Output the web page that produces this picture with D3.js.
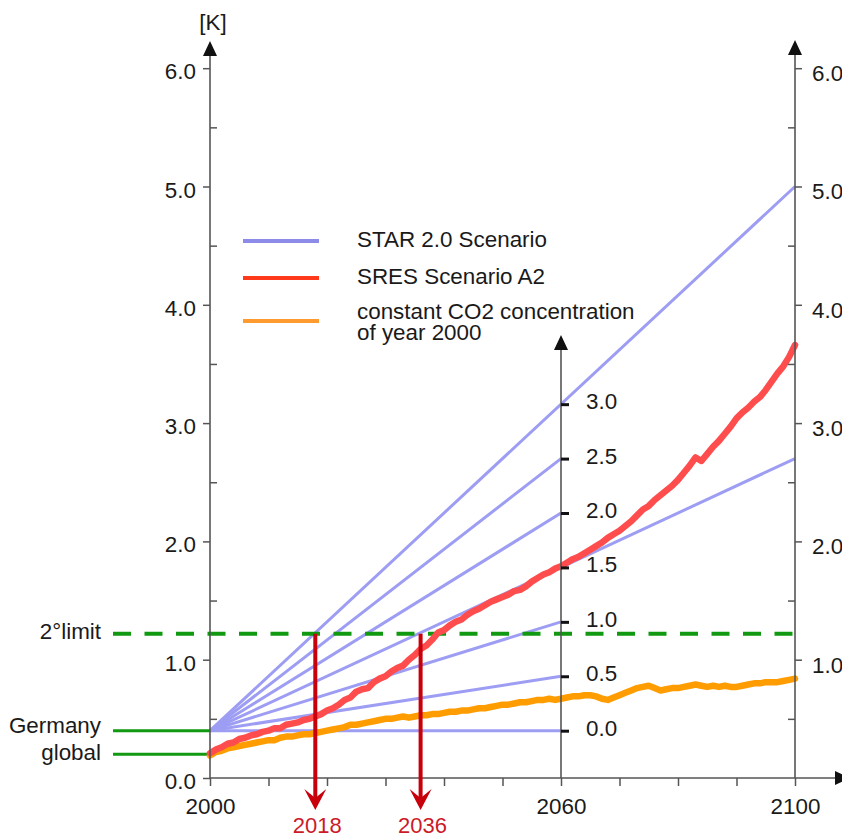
<!DOCTYPE html>
<html>
<head>
<meta charset="utf-8">
<script src="https://cdn.jsdelivr.net/npm/d3@7"></script>
<style>
  html, body { margin: 0; padding: 0; background: #fff; }
  svg { display: block; font-family: "Liberation Sans", Arial, Helvetica, sans-serif; }
</style>
</head>
<body>
<svg id="chart" width="842" height="839"></svg>
<script>
// ---- data ----
const years = d3.range(2000, 2101);

// SRES A2 warming (K), yearly
const sresA2 = [
  0.21,0.24,0.26,0.29,0.30,0.33,0.34,0.36,0.37,0.39,
  0.40,0.42,0.42,0.45,0.46,0.47,0.49,0.50,0.52,0.54,
  0.57,0.59,0.62,0.66,0.68,0.73,0.75,0.76,0.81,0.84,
  0.86,0.90,0.93,0.95,1.00,1.04,1.09,1.12,1.17,1.23,
  1.25,1.29,1.32,1.34,1.38,1.41,1.43,1.46,1.49,1.51,
  1.53,1.55,1.58,1.59,1.62,1.66,1.69,1.72,1.74,1.77,
  1.79,1.82,1.85,1.87,1.90,1.93,1.96,1.99,2.03,2.06,
  2.09,2.13,2.17,2.22,2.27,2.30,2.35,2.39,2.43,2.47,
  2.52,2.58,2.64,2.71,2.68,2.74,2.80,2.85,2.91,2.97,
  3.04,3.09,3.13,3.18,3.22,3.28,3.35,3.42,3.48,3.56,3.66
];

// constant CO2 concentration of year 2000 (K), yearly
const constCO2 = [
  0.19,0.22,0.23,0.25,0.26,0.27,0.28,0.29,0.30,0.31,
  0.32,0.32,0.34,0.35,0.35,0.36,0.37,0.37,0.38,0.39,
  0.40,0.41,0.42,0.43,0.45,0.45,0.46,0.47,0.48,0.49,
  0.50,0.50,0.51,0.52,0.51,0.52,0.53,0.53,0.54,0.54,
  0.55,0.56,0.56,0.57,0.57,0.58,0.59,0.59,0.60,0.61,
  0.62,0.62,0.63,0.64,0.64,0.65,0.66,0.66,0.67,0.66,
  0.67,0.68,0.69,0.69,0.70,0.70,0.69,0.67,0.66,0.68,
  0.70,0.72,0.74,0.76,0.77,0.78,0.76,0.74,0.75,0.76,
  0.76,0.77,0.78,0.79,0.78,0.77,0.78,0.77,0.78,0.77,
  0.77,0.78,0.79,0.80,0.80,0.81,0.81,0.81,0.82,0.83,0.84
];

// STAR 2.0 scenario rates (inner axis values at 2060)
const starRates = [0, 0.5, 1.0, 1.5, 2.0, 2.5, 3.0];
const starExtendedRates = [1.5, 3.0];   // these run on to 2100
const starKPerUnit = 0.92;               // K of warming by 2060 per inner-axis unit

const germanyLevel = 0.4;
const globalLevel = 0.2;
const limitLevel = 1.22;
const crossingYears = [2018, 2036];

const yMajorTicks = [0, 1, 2, 3, 4, 5, 6];
const yMinorTicks = [0.5, 1.5, 2.5, 3.5, 4.5, 5.5];
const xTicks = d3.range(2000, 2101, 10);
const xLabelled = [2000, 2060, 2100];

const legendItems = [
  { label: ["STAR 2.0 Scenario"], color: "#8c8ce8" },
  { label: ["SRES Scenario A2"], color: "#ff3a1a" },
  { label: ["constant CO2 concentration", "of year 2000"], color: "#ff9a30" }
];

// ---- layout ----
const FONT = 22.4;
const TEXT = "#1a1a1a";
const AXIS = "#555";
const GREEN = "#119911";
const ARROW_RED = "#c8000c";

const svg = d3.select("#chart");

const x = d3.scaleLinear().domain([2000, 2100]).range([210, 795]);
const y = d3.scaleLinear().domain([0, 6]).range([778, 68.2]);

const starValue = (rate, yr) => germanyLevel + rate * starKPerUnit * (yr - 2000) / 60;
const yMid = d3.scaleLinear().domain([0, 3]).range([y(starValue(0, 2060)), y(starValue(3, 2060))]);

const fmt = d3.format(".1f");

function styleAxis(g, tickColor, tickWidth) {
  g.attr("font-size", FONT).attr("font-family", null);
  g.select(".domain").remove();
  g.selectAll(".tick line").attr("stroke", tickColor).attr("stroke-width", tickWidth);
  g.selectAll(".tick text").attr("fill", TEXT);
}

function arrowHead(g, tipX, tipY, dir) {
  // filled triangle pointing up or right
  const L = 15, Hw = 7;
  let pts;
  if (dir === "up") pts = [[tipX, tipY], [tipX - Hw, tipY + L], [tipX + Hw, tipY + L]];
  else pts = [[tipX, tipY], [tipX - L, tipY - Hw], [tipX - L, tipY + Hw]];
  g.append("polygon").attr("points", pts.map(p => p.join(",")).join(" ")).attr("fill", "#111");
}

// ---- STAR fan ----
const fan = svg.append("g");
starRates.forEach(r => {
  const endYear = starExtendedRates.includes(r) ? 2100 : 2060;
  fan.append("line")
    .attr("x1", x(2000)).attr("y1", y(germanyLevel))
    .attr("x2", x(endYear)).attr("y2", y(starValue(r, endYear)))
    .attr("stroke", "#9d9df4").attr("stroke-width", 3);
});

// ---- Germany / global reference lines ----
[germanyLevel, globalLevel].forEach(v => {
  svg.append("line")
    .attr("x1", 113).attr("x2", x(2000))
    .attr("y1", y(v)).attr("y2", y(v))
    .attr("stroke", GREEN).attr("stroke-width", 3);
});

// 2° limit
svg.append("line")
  .attr("x1", 113).attr("x2", x(2100))
  .attr("y1", y(limitLevel)).attr("y2", y(limitLevel))
  .attr("stroke", GREEN).attr("stroke-width", 4)
  .attr("stroke-dasharray", "18,13.5");

// ---- scenario series ----
const line = d3.line().x((d, i) => x(years[i])).y(d => y(d)).curve(d3.curveLinear);

svg.append("path").datum(constCO2)
  .attr("d", line).attr("fill", "none")
  .attr("stroke", "#ff9c00").attr("stroke-width", 6.5)
  .attr("stroke-linejoin", "round").attr("stroke-linecap", "round");

svg.append("path").datum(sresA2)
  .attr("d", line).attr("fill", "none")
  .attr("stroke", "#ff4d4d").attr("stroke-width", 6.5)
  .attr("stroke-linejoin", "round").attr("stroke-linecap", "round");

// ---- axes ----
const axes = svg.append("g");

// left axis
const gL = axes.append("g").attr("transform", `translate(${x(2000)},0)`);
gL.append("g").call(d3.axisLeft(y).tickValues(yMajorTicks).tickSize(7).tickPadding(7).tickSizeOuter(0).tickFormat(fmt))
  .call(g => { styleAxis(g, AXIS, 1.5); g.selectAll(".tick text").attr("dy", "0.47em"); });
gL.append("g").call(d3.axisRight(y).tickValues(yMinorTicks).tickSize(7).tickSizeOuter(0).tickFormat(""))
  .call(g => styleAxis(g, AXIS, 1.5));
gL.append("line").attr("x1", 0).attr("x2", 0).attr("y1", y(0)).attr("y2", 55)
  .attr("stroke", AXIS).attr("stroke-width", 1.6);
arrowHead(gL, 0, 41, "up");
gL.append("text").attr("x", 3).attr("y", 30).attr("text-anchor", "middle")
  .attr("font-size", FONT).attr("fill", TEXT).text("[K]");

// right axis
const gR = axes.append("g").attr("transform", `translate(${x(2100)},0)`);
gR.append("g").call(d3.axisRight(y).tickValues(yMajorTicks.filter(d => d > 0)).tickSize(7).tickPadding(10).tickSizeOuter(0).tickFormat(fmt))
  .call(g => { styleAxis(g, AXIS, 1.5); g.selectAll(".tick text").attr("dy", "0.55em"); });
gR.append("g").call(d3.axisLeft(y).tickValues(yMinorTicks).tickSize(7).tickSizeOuter(0).tickFormat(""))
  .call(g => styleAxis(g, AXIS, 1.5));
gR.append("line").attr("x1", 0).attr("x2", 0).attr("y1", y(0)).attr("y2", 55)
  .attr("stroke", AXIS).attr("stroke-width", 1.6);
arrowHead(gR, 0, 40, "up");

// bottom axis
const gB = axes.append("g").attr("transform", `translate(0,${y(0)})`);
gB.append("g").call(d3.axisBottom(x).tickValues(xTicks).tickSize(8).tickPadding(12).tickSizeOuter(0)
    .tickFormat(d => xLabelled.includes(d) ? d : ""))
  .call(g => styleAxis(g, AXIS, 1.5));
gB.append("line").attr("x1", x(2000)).attr("x2", 836).attr("y1", 0).attr("y2", 0)
  .attr("stroke", AXIS).attr("stroke-width", 1.6);
arrowHead(gB, 850, 0, "right");

// inner axis at 2060 (STAR rates)
const gM = axes.append("g").attr("transform", `translate(${x(2060)},0)`);
gM.append("line").attr("x1", 0).attr("x2", 0).attr("y1", y(0)).attr("y2", 350)
  .attr("stroke", AXIS).attr("stroke-width", 1.6);
gM.append("g").call(d3.axisRight(yMid).tickValues(starRates).tickSize(8).tickPadding(17).tickSizeOuter(0).tickFormat(fmt))
  .call(g => { styleAxis(g, "#111", 3); g.selectAll(".tick text").attr("dy", "0.2em"); });
arrowHead(gM, 0, 335, "up");

// ---- left-side labels ----
const sideLabels = [
  { text: "2°limit", v: limitLevel, dy: 5 },
  { text: "Germany", v: germanyLevel, dy: 2 },
  { text: "global", v: globalLevel, dy: 6 }
];
svg.append("g").selectAll("text").data(sideLabels).join("text")
  .attr("x", 101).attr("y", d => y(d.v) + d.dy)
  .attr("text-anchor", "end").attr("font-size", FONT).attr("fill", TEXT)
  .text(d => d.text);

// ---- crossing arrows ----
const arrows = svg.append("g");
crossingYears.forEach(yr => {
  const cx = x(yr);
  arrows.append("line")
    .attr("x1", cx).attr("x2", cx)
    .attr("y1", y(limitLevel)).attr("y2", 798)
    .attr("stroke", ARROW_RED).attr("stroke-width", 4);
  const tip = 810;
  arrows.append("path")
    .attr("d", `M${cx},${tip} L${cx - 11},${tip - 21} L${cx},${tip - 12} L${cx + 11},${tip - 21} Z`)
    .attr("fill", ARROW_RED);
  arrows.append("text")
    .attr("x", cx + 2).attr("y", 833)
    .attr("text-anchor", "middle").attr("font-size", FONT - 0.4)
    .attr("fill", "#cc1a28").text(yr);
});

// ---- legend ----
const legendRows = [241, 278, 321];
const legend = svg.append("g");
legendItems.forEach((item, i) => {
  const ly = legendRows[i];
  legend.append("line")
    .attr("x1", 243).attr("x2", 319).attr("y1", ly).attr("y2", ly)
    .attr("stroke", item.color).attr("stroke-width", 4);
  const t = legend.append("text")
    .attr("x", 357).attr("y", item.label.length > 1 ? ly - 2 : ly + 6)
    .attr("font-size", FONT).attr("fill", TEXT);
  item.label.forEach((s, k) => {
    t.append("tspan").attr("x", 357).attr("dy", k === 0 ? 0 : 21).text(s);
  });
});
</script>
</body>
</html>
